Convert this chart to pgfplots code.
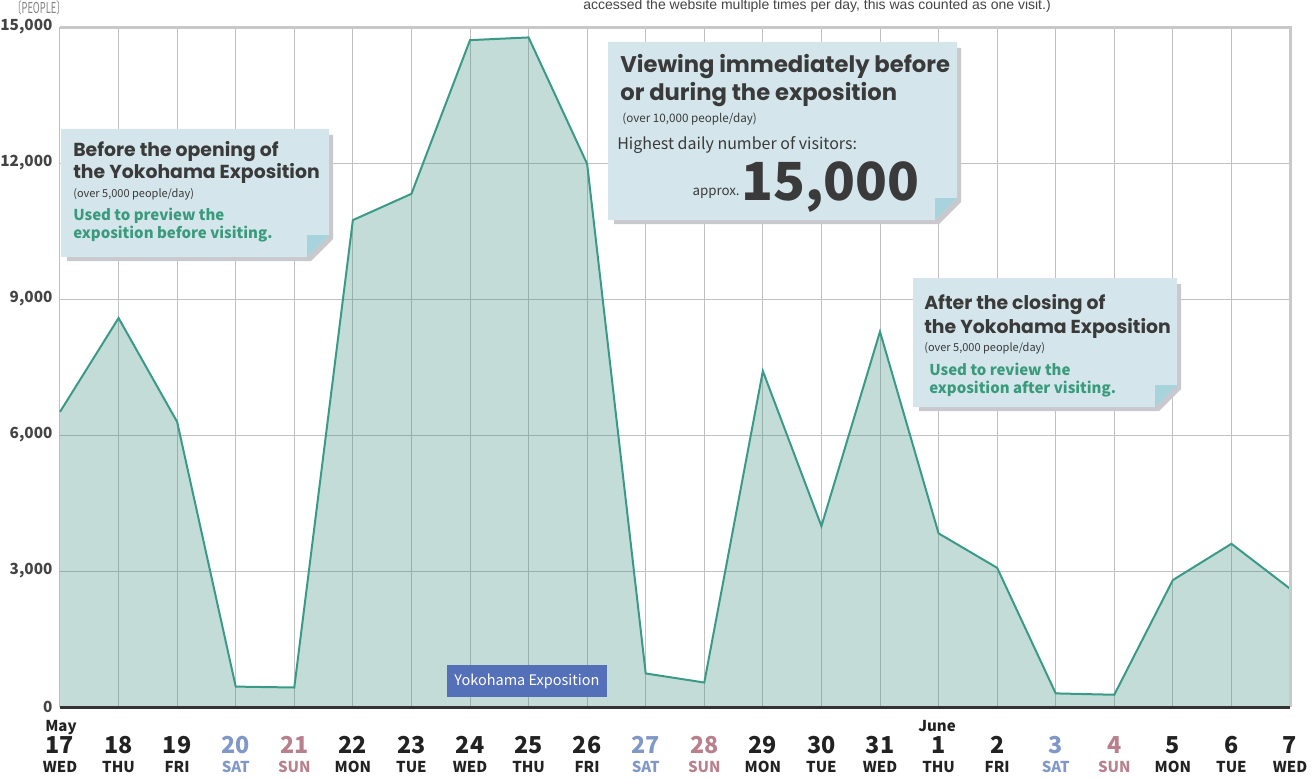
\documentclass[border=0pt]{standalone}
\usepackage{graphicx}
\usepackage{pgfplots}
\pgfplotsset{compat=1.18}
\usepackage{fontspec}
\setmainfont{Noto Sans CJK JP}
\newfontfamily\headfont{Poppins}
\newfontfamily\notefont{Liberation Sans}
\definecolor{gridc}{RGB}{192,192,192}
\definecolor{borderc}{RGB}{200,200,200}
\definecolor{darkc}{RGB}{50,50,50}
\definecolor{areac}{RGB}{60,140,125}
\definecolor{linec}{RGB}{58,154,136}
\definecolor{tickc}{RGB}{68,68,68}
\definecolor{wkc}{RGB}{34,34,34}
\definecolor{satc}{RGB}{128,152,200}
\definecolor{sunc}{RGB}{184,128,140}
\definecolor{boxc}{RGB}{212,230,236}
\definecolor{flapc}{RGB}{166,211,220}
\definecolor{shadowc}{RGB}{200,200,205}
\definecolor{headc}{RGB}{58,58,58}
\definecolor{tealc}{RGB}{58,154,124}
\definecolor{expoc}{RGB}{84,112,184}

\newcommand{\notebox}[4]{%
  \fill[shadowc] ({#1+6},{#2+6}) -- ({#3+4},{#2+6}) -- ({#3+4},{#4-22+4}) -- ({#3-22+4},{#4+4}) -- ({#1+6},{#4+4}) -- cycle;
  \fill[boxc] (#1,#2) -- (#3,#2) -- (#3,{#4-22}) -- ({#3-22},#4) -- (#1,#4) -- cycle;
  \fill[flapc] ({#3-22},{#4-22}) -- (#3,{#4-22}) -- ({#3-22},#4) -- cycle;
}

\begin{document}
\begin{tikzpicture}
\useasboundingbox (-36pt,-42.6pt) rectangle (751.8pt,424.2pt);
\begin{axis}[
  at={(0,0)}, anchor=south west, scale only axis,
  width=738pt, height=408pt,
  xmin=0, xmax=21, ymin=0, ymax=15000,
  axis line style={draw=none},
  tick style={draw=none},
  xtick={0,...,21},
  xticklabels={17,18,19,{\textcolor{satc}{20}},{\textcolor{sunc}{21}},22,23,24,25,26,{\textcolor{satc}{27}},{\textcolor{sunc}{28}},29,30,31,1,2,{\textcolor{satc}{3}},{\textcolor{sunc}{4}},5,6,7},
  xticklabel style={anchor=base, yshift=-27.6pt, font=\bfseries\fontsize{14}{14}\selectfont, text=wkc},
  ytick={0,3000,6000,9000,12000,15000},
  scaled y ticks=false,
  yticklabel style={font=\bfseries\fontsize{9.2}{10}\selectfont, text=tickc, xshift=-1pt},
  /pgf/number format/1000 sep={,},
  /pgf/number format/assume math mode=true,
  grid=major,
  major grid style={color=gridc, line width=0.6pt},
  clip=false,
]
\addplot[fill=areac, fill opacity=0.3, draw=none] coordinates {
 (0,6510) (1,8580) (2,6290) (3,450) (4,430) (5,10740) (6,11320) (7,14710)
 (8,14770) (9,11980) (10,740) (11,540) (12,7410) (13,3990) (14,8280)
 (15,3830) (16,3070) (17,300) (18,270) (19,2800) (20,3600) (21,2610)
} \closedcycle;
\addplot[linec, line width=1.2pt] coordinates {
 (0,6510) (1,8580) (2,6290) (3,450) (4,430) (5,10740) (6,11320) (7,14710)
 (8,14770) (9,11980) (10,740) (11,540) (12,7410) (13,3990) (14,8280)
 (15,3830) (16,3070) (17,300) (18,270) (19,2800) (20,3600) (21,2610)
};
\draw[borderc, line width=1.8pt] (axis cs:0,15000) -- (axis cs:21,15000) -- (axis cs:21,0);
\draw[darkc, line width=1.8pt] (axis cs:0,0) -- (axis cs:21,0);
\end{axis}

\begin{scope}[shift={(-36pt,424.2pt)}, x=0.6pt, y=-0.6pt]
  % note at top
  \node[anchor=base west, inner sep=0pt, text=tickc, font=\notefont\fontsize{8.4}{9}\selectfont] at (583,10)
    {accessed the website multiple times per day, this was counted as one visit.)};
  % unit label
  \node[anchor=base west, inner sep=0pt, text=gray, font=\fontsize{9}{10}\selectfont] at (12,14)
    {\scalebox{0.62}[1]{〔PEOPLE〕}};
  % month labels
  \node[anchor=base west, inner sep=0pt, text=wkc, font=\bfseries\fontsize{9}{10}\selectfont] at (45,731.5) {May};
  \node[anchor=base west, inner sep=0pt, text=wkc, font=\bfseries\fontsize{9}{10}\selectfont] at (918,731.5) {June};
  % weekday labels
  \foreach \i/\w/\c in {0/WED/wkc,1/THU/wkc,2/FRI/wkc,3/SAT/satc,4/SUN/sunc,5/MON/wkc,6/TUE/wkc,7/WED/wkc,8/THU/wkc,9/FRI/wkc,10/SAT/satc,11/SUN/sunc,12/MON/wkc,13/TUE/wkc,14/WED/wkc,15/THU/wkc,16/FRI/wkc,17/SAT/satc,18/SUN/sunc,19/MON/wkc,20/TUE/wkc,21/WED/wkc}
    \node[anchor=base, inner sep=0pt, text=\c, font=\bfseries\fontsize{9}{10}\selectfont] at ({60+\i*58.5714},772) {\w};

  % Yokohama Exposition label
  \fill[expoc] (447,665) rectangle (607,697);
  \node[text=white, inner sep=0pt, font=\fontsize{8.7}{10}\selectfont] at (527,681) {Yokohama Exposition};

  % Box 1
  \notebox{61}{129}{329}{257}
  \node[anchor=base west, inner sep=0pt, text=headc, font=\headfont\bfseries\fontsize{11.3}{12}\selectfont] at (73,156) {Before the opening of};
  \node[anchor=base west, inner sep=0pt, text=headc, font=\headfont\bfseries\fontsize{11.3}{12}\selectfont] at (73,178) {the Yokohama Exposition};
  \node[anchor=base west, inner sep=0pt, text=headc, font=\fontsize{6.6}{7}\selectfont] at (73,197) {(over 5,000 people/day)};
  \node[anchor=base west, inner sep=0pt, text=tealc, font=\bfseries\fontsize{9}{10}\selectfont] at (73,220) {Used to preview the};
  \node[anchor=base west, inner sep=0pt, text=tealc, font=\bfseries\fontsize{9}{10}\selectfont] at (73,238) {exposition before visiting.};

  % Box 2
  \notebox{608}{42}{957}{220}
  \node[anchor=base west, inner sep=0pt, text=headc, font=\headfont\bfseries\fontsize{13.6}{15}\selectfont] at (620,73) {Viewing immediately before};
  \node[anchor=base west, inner sep=0pt, text=headc, font=\headfont\bfseries\fontsize{13.6}{15}\selectfont] at (620,101) {or during the exposition};
  \node[anchor=base west, inner sep=0pt, text=headc, font=\fontsize{7}{8}\selectfont] at (622,123) {(over 10,000 people/day)};
  \node[anchor=base west, inner sep=0pt, text=headc, font=\fontsize{9.6}{11}\selectfont] at (617,150) {Highest daily number of visitors:};
  \node[anchor=base east, inner sep=0pt, text=headc, font=\fontsize{8}{9}\selectfont] at (740,195) {approx.};
  \node[anchor=base west, inner sep=0pt, text=headc, font=\bfseries\fontsize{31.5}{34}\selectfont] at (741,200) {15,000};

  % Box 3
  \notebox{913}{278}{1177}{407}
  \node[anchor=base west, inner sep=0pt, text=headc, font=\headfont\bfseries\fontsize{11.3}{12}\selectfont] at (924,309) {After the closing of};
  \node[anchor=base west, inner sep=0pt, text=headc, font=\headfont\bfseries\fontsize{11.3}{12}\selectfont] at (924,333) {the Yokohama Exposition};
  \node[anchor=base west, inner sep=0pt, text=headc, font=\fontsize{6.6}{7}\selectfont] at (924,351) {(over 5,000 people/day)};
  \node[anchor=base west, inner sep=0pt, text=tealc, font=\bfseries\fontsize{9}{10}\selectfont] at (929,375) {Used to review the};
  \node[anchor=base west, inner sep=0pt, text=tealc, font=\bfseries\fontsize{9}{10}\selectfont] at (929,393) {exposition after visiting.};
\end{scope}
\end{tikzpicture}
\end{document}
